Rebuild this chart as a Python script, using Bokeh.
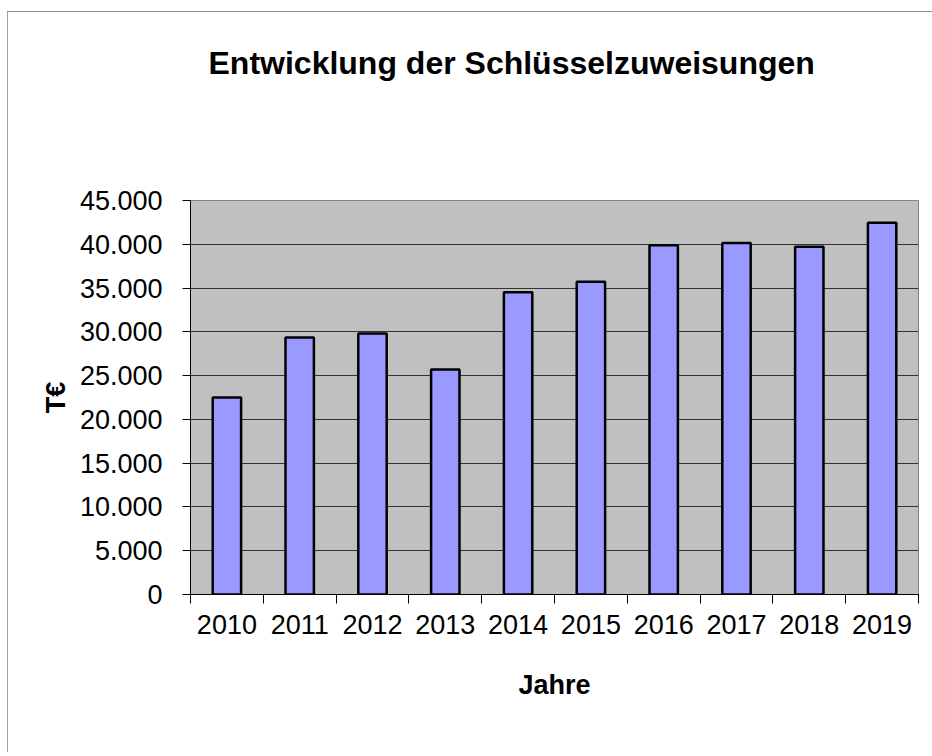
from bokeh.plotting import figure
from bokeh.models import Range1d, FixedTicker, Label
from bokeh.layouts import column
from bokeh.embed import file_html
from bokeh.resources import INLINE

# ---- data ----
years = [2010, 2011, 2012, 2013, 2014, 2015, 2016, 2017, 2018, 2019]
values = [22500, 29350, 29800, 25700, 34530, 35710, 39900, 40160, 39710, 42450]
y_ticks = [0, 5000, 10000, 15000, 20000, 25000, 30000, 35000, 40000, 45000]
y_tick_labels = ["0", "5.000", "10.000", "15.000", "20.000", "25.000",
                 "30.000", "35.000", "40.000", "45.000"]
title_text = "Entwicklung der Schlüsselzuweisungen"
x_title = "Jahre"
y_title = "T€"

FONT = "Liberation Sans"
FRAME_W = 728
FRAME_H = 394
TOP_H = 168
GAP = 20

# ---- title strip (its frame is aligned with the chart frame by the column) ----
t = figure(width=182 + FRAME_W + 14, height=TOP_H,
           min_border_left=182, min_border_right=14,
           min_border_top=0, min_border_bottom=0,
           x_range=Range1d(0, FRAME_W), y_range=Range1d(0, TOP_H),
           x_axis_type=None, y_axis_type=None,
           output_backend="svg", toolbar_location=None,
           background_fill_color="white", border_fill_color="white",
           outline_line_color=None)
t.grid.visible = False
t.add_layout(Label(x=18, y=TOP_H - 50.5, text=title_text, text_font=FONT,
                   text_font_size="32px", text_font_style="bold",
                   text_align="left", text_baseline="alphabetic",
                   text_color="black"))

# ---- main chart ----
p = figure(
    frame_width=FRAME_W, frame_height=FRAME_H,
    min_border_left=182, min_border_right=14,
    min_border_top=GAP, min_border_bottom=158,
    x_range=Range1d(years[0] - 0.5, years[-1] + 0.5),
    y_range=Range1d(y_ticks[0], y_ticks[-1]),
    output_backend="svg", toolbar_location=None,
    background_fill_color="#c0c0c0", border_fill_color="white",
    outline_line_color="#808080", outline_line_width=1,
)

p.vbar(x=years, top=values, width=0.39, fill_color="#9999ff",
       line_color="black", line_width=2.5)

# x axis
boundaries = [y - 0.5 for y in years] + [years[-1] + 0.5]
xa = p.xaxis[0]
xa.ticker = FixedTicker(ticks=years, minor_ticks=boundaries)
xa.major_tick_out = 0
xa.major_tick_in = 0
xa.minor_tick_out = 9
xa.minor_tick_in = 0
xa.minor_tick_line_color = "black"
xa.axis_line_color = "black"
xa.major_label_text_font = FONT
xa.major_label_text_font_size = "27px"
xa.major_label_text_color = "black"
xa.major_label_standoff = 11
xa.axis_label = x_title
xa.axis_label_text_font = FONT
xa.axis_label_text_font_size = "27px"
xa.axis_label_text_font_style = "bold"
xa.axis_label_text_color = "black"
xa.axis_label_standoff = 33

# y axis
ya = p.yaxis[0]
ya.ticker = FixedTicker(ticks=y_ticks)
ya.major_label_overrides = {tk: s for tk, s in zip(y_ticks, y_tick_labels)}
ya.major_tick_out = 8
ya.major_tick_in = 0
ya.minor_tick_out = 0
ya.minor_tick_in = 0
ya.major_tick_line_color = "black"
ya.axis_line_color = "black"
ya.major_label_text_font = FONT
ya.major_label_text_font_size = "27px"
ya.major_label_text_color = "black"
ya.major_label_standoff = 20
ya.axis_label = y_title
ya.axis_label_text_font = FONT
ya.axis_label_text_font_size = "27px"
ya.axis_label_text_font_style = "bold"
ya.axis_label_text_color = "black"
ya.axis_label_standoff = 6

# grid
p.xgrid.visible = False
p.ygrid.ticker = FixedTicker(ticks=y_ticks[1:-1])
p.ygrid.grid_line_color = "#333333"
p.ygrid.grid_line_width = 1

layout = column(t, p, spacing=0)
layout.styles = {"border-left": "1px solid #a0a0a0", "border-top": "1px solid #8c8c8c",
                 "margin-top": "11px", "margin-left": "7px"}

open("out.html", "w").write(file_html(layout, INLINE))
